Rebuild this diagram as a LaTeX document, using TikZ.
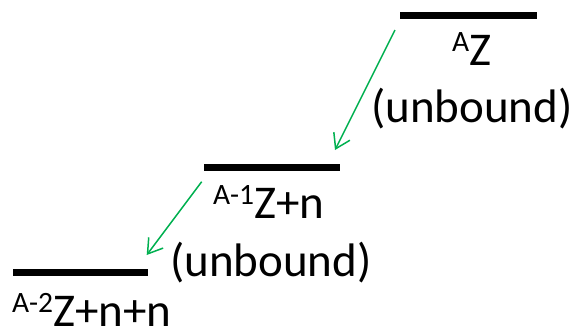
\documentclass[tikz,border=0pt]{standalone}
\usepackage{fontspec}
\setmainfont{Carlito}
\usetikzlibrary{arrows.meta}
\definecolor{pptgreen}{RGB}{0,176,80}
\newcommand{\sups}[1]{\raisebox{14pt}{\fontsize{29.5}{29.5}\selectfont #1}}
\tikzset{
  level/.style={line width=7pt,black},
  lbl/.style={anchor=base west,inner sep=0pt,font=\fontsize{47}{47}\selectfont},
  decay/.style={pptgreen,line width=1.5pt,-{Straight Barb[length=14pt,width=18pt,line width=1.5pt]}}
}
\begin{document}
\begin{tikzpicture}[x=1pt,y=-1pt]
\useasboundingbox (0,0) rectangle (576,330);
% levels
\coordinate (t1) at (400,15.5);
\coordinate (t2) at (537,15.5);
\coordinate (m1) at (204,167);
\coordinate (m2) at (340,167);
\coordinate (b1) at (13,272.5);
\coordinate (b2) at (148,272.5);
\draw[level] (t1) -- (t2);
\draw[level] (m1) -- (m2);
\draw[level] (b1) -- (b2);
% labels
\node[lbl] (ltop) at (452,65.7) {\sups{A}Z};
\node[lbl] (utop) at (371,122.5) {(unbound)};
\node[lbl] (lmid) at (213,218) {\sups{A-1}Z+n};
\node[lbl] (umid) at (170,276) {(unbound)};
\node[lbl] (lbot) at (12,326.5) {\sups{A-2}Z+n+n};
% arrows
\coordinate (a1s) at (395,30);
\coordinate (a1e) at (335,150);
\coordinate (a2s) at (201.7,181.7);
\coordinate (a2e) at (146.7,255);
\draw[decay] (a1s) -- (a1e);
\draw[decay] (a2s) -- (a2e);
\end{tikzpicture}
\end{document}
